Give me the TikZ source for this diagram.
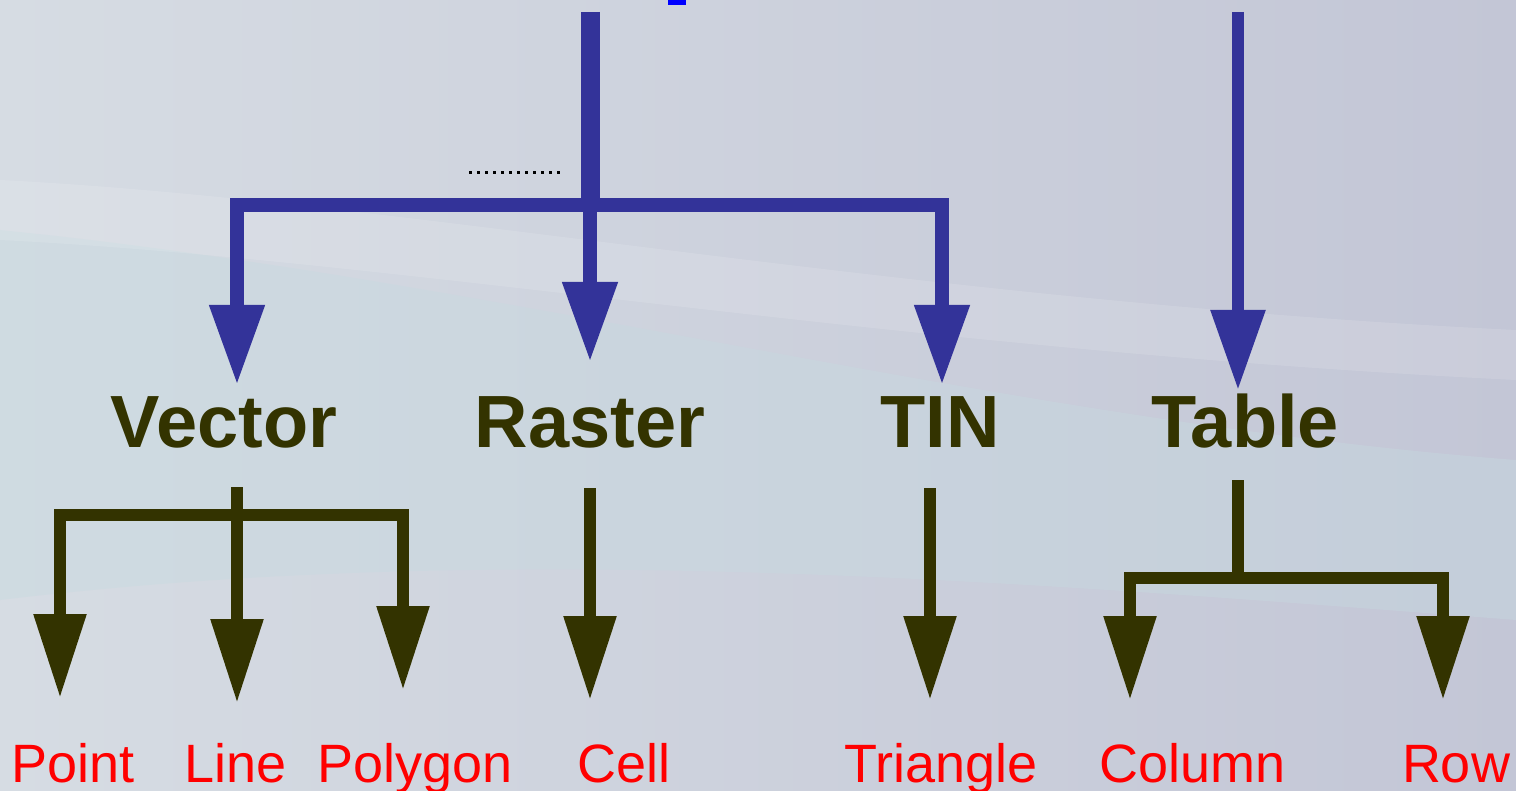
\documentclass[tikz,border=0pt]{standalone}
\usepackage{fontspec}
\setmainfont{Liberation Sans}
\usetikzlibrary{arrows.meta}
\definecolor{bgA}{HTML}{D6DCE3}
\definecolor{bgB}{HTML}{C3C6D6}
\definecolor{bgC}{HTML}{C6DAE0}
\definecolor{bluearr}{HTML}{333399}
\definecolor{olive}{HTML}{333300}
\definecolor{lblred}{HTML}{FF0000}
\begin{document}
\begin{tikzpicture}[x=0.5pt,y=-0.5pt,
  bluelink/.style={draw=bluearr, line width=7pt},
  bluearrow/.style={bluelink, -{Triangle[length=40pt,width=26pt]}},
  olivelink/.style={draw=olive, line width=6pt},
  olivearrow/.style={olivelink, -{Triangle[length=42pt,width=25pt]}},
  cat/.style={font=\bfseries\fontsize{37}{40}\selectfont, text=olive, inner sep=0pt, anchor=base},
  leaf/.style={font=\fontsize{27}{30}\selectfont, text=lblred, inner sep=0pt, anchor=base}]
\useasboundingbox (0,0) rectangle (1516,791);
% background
\shade[left color=bgA, right color=bgB] (0,0) rectangle (1516,791);
\fill[bgC, opacity=0.4] (0,230) .. controls (500,280) and (1000,420) .. (1516,460) -- (1516,620) .. controls (1000,580) and (500,540) .. (0,600) -- cycle;
\fill[white, opacity=0.12] (0,180) .. controls (400,200) and (900,300) .. (1516,330) -- (1516,380) .. controls (900,350) and (400,260) .. (0,240) -- cycle;
% small marks
\coordinate (d1) at (469,173);
\coordinate (d2) at (563,173);
\draw[black, line width=1.5pt, dash pattern=on 1.5pt off 2.5pt] (d1) -- (d2);
\fill[blue] (668,0) rectangle (686,5);
% category labels
\node[cat] (vector) at (224,447) {Vector};
\node[cat] (raster) at (590,447) {Raster};
\node[cat] (tin) at (940,447) {TIN};
\node[cat] (table) at (1245,447) {Table};
% leaf labels
\node[leaf] (point) at (73,782) {Point};
\node[leaf] (line) at (236,782) {Line};
\node[leaf] (polygon) at (415,782) {Polygon};
\node[leaf] (cell) at (624,782) {Cell};
\node[leaf] (triangle) at (941,782) {Triangle};
\node[leaf] (column) at (1193,782) {Column};
\node[leaf] (row) at (1456,782) {Row};
% blue tree
\coordinate (top1) at (590,12);
\coordinate (hub) at (590,205);
\coordinate (vtip) at (237,385);
\coordinate (rtip) at (590,362);
\coordinate (ttip) at (942,385);
\coordinate (top2) at (1238,12);
\coordinate (tbtip) at (1238,390);
\draw[bluelink, line width=9.5pt] (top1) -- (hub);
\draw[bluearrow] (hub) -| (vtip);
\draw[bluearrow] (hub) -- (rtip);
\draw[bluearrow] (hub) -| (ttip);
\draw[bluearrow, line width=6pt] (top2) -- (tbtip);
% vector subtree
\coordinate (vs) at (237,487);
\coordinate (vh) at (237,515);
\coordinate (ptip) at (60,698);
\coordinate (ltip) at (237,703);
\coordinate (pgtip) at (403,690);
\draw[olivelink] (vs) -- (vh);
\draw[olivearrow] (vh) -| (ptip);
\draw[olivearrow] (vh) -- (ltip);
\draw[olivearrow] (vh) -| (pgtip);
% raster and TIN
\coordinate (rs) at (590,488);
\coordinate (ctip) at (590,700);
\draw[olivearrow] (rs) -- (ctip);
\coordinate (ts) at (930,488);
\coordinate (trtip) at (930,700);
\draw[olivearrow] (ts) -- (trtip);
% table subtree
\coordinate (tbs) at (1238,480);
\coordinate (tbh) at (1238,578);
\coordinate (cotip) at (1130,700);
\coordinate (rwtip) at (1443,700);
\draw[olivelink] (tbs) -- (tbh);
\draw[olivearrow] (tbh) -| (cotip);
\draw[olivearrow] (tbh) -| (rwtip);
\end{tikzpicture}
\end{document}
